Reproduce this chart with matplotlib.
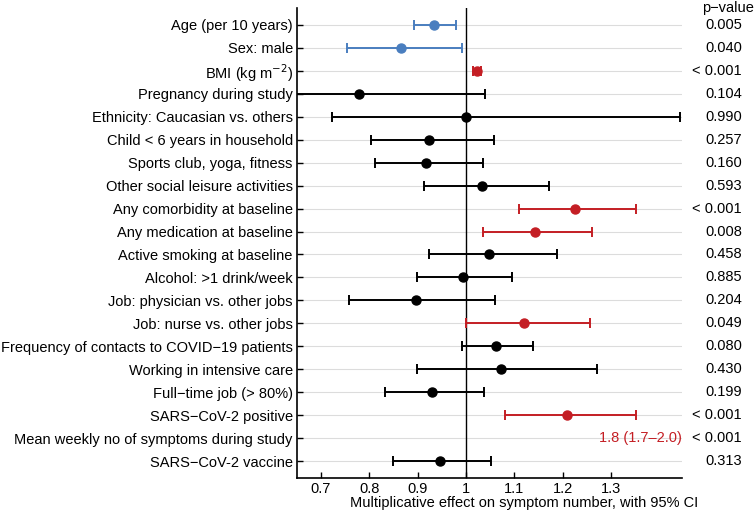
import numpy as np
import matplotlib
matplotlib.use("Agg")
import matplotlib.pyplot as plt

plt.rcParams['font.family'] = ['Liberation Sans', 'DejaVu Sans']

labels = ['Age (per 10 years)', 'Sex: male', 'BMI (kg m$^{-2}$)', 'Pregnancy during study',
          'Ethnicity: Caucasian vs. others', 'Child < 6 years in household',
          'Sports club, yoga, fitness', 'Other social leisure activities',
          'Any comorbidity at baseline', 'Any medication at baseline',
          'Active smoking at baseline', 'Alcohol: >1 drink/week',
          'Job: physician vs. other jobs', 'Job: nurse vs. other jobs',
          'Frequency of contacts to COVID\u221219 patients', 'Working in intensive care',
          'Full\u2212time job (> 80%)', 'SARS\u2212CoV-2 positive',
          'Mean weekly no of symptoms during study', 'SARS\u2212CoV-2 vaccine']
est = [0.934, 0.865, 1.022, 0.779, 1.001, 0.923, 0.917, 1.034, 1.226, 1.143,
       1.048, 0.993, 0.897, 1.120, 1.063, 1.072, 0.930, 1.209, np.nan, 0.946]
lo = [0.892, 0.754, 1.014, 0.60, 0.723, 0.803, 0.812, 0.914, 1.109, 1.036,
      0.923, 0.899, 0.757, 1.001, 0.992, 0.898, 0.832, 1.081, np.nan, 0.848]
hi = [0.980, 0.991, 1.032, 1.039, 1.443, 1.058, 1.035, 1.172, 1.352, 1.261,
      1.188, 1.095, 1.059, 1.257, 1.139, 1.271, 1.038, 1.351, np.nan, 1.052]
pvals = ['0.005', '0.040', '< 0.001', '0.104', '0.990', '0.257', '0.160', '0.593',
         '< 0.001', '0.008', '0.458', '0.885', '0.204', '0.049', '0.080', '0.430',
         '0.199', '< 0.001', '< 0.001', '0.313']
group = ['blue', 'blue', 'red', 'k', 'k', 'k', 'k', 'k', 'red', 'red',
         'k', 'k', 'k', 'red', 'k', 'k', 'k', 'red', 'red', 'k']
note_row = 18
note_text = '1.8 (1.7\u20132.0)'

cols = {'blue': '#4A7EBF', 'red': '#C41E24', 'k': 'black'}

fig = plt.figure(figsize=(7.56, 5.22), dpi=100)
ax = fig.add_axes([297/756, 44/522, 385/756, 470/522])

y = np.arange(len(labels))
for yi in y:
    ax.axhline(yi, color='#DCDCDC', lw=0.8, zorder=0)
ax.axvline(1, color='black', lw=1.0, zorder=1)

for i in range(len(labels)):
    if np.isnan(est[i]):
        continue
    c = cols[group[i]]
    ax.errorbar(est[i], y[i], xerr=[[est[i]-lo[i]], [hi[i]-est[i]]], fmt='o', color=c,
                ms=6.5, elinewidth=1.4, capsize=3.5, capthick=1.4, zorder=3)

ax.text(1.447, note_row, note_text, color=cols['red'], ha='right', va='center', fontsize=10.5)

ax.set_xlim(0.6503, 1.447)
ax.set_ylim(19.74, -0.74)
ax.set_yticks(y)
ax.set_yticklabels(labels, fontsize=10.5)
ax.set_xticks([0.7, 0.8, 0.9, 1.0, 1.1, 1.2, 1.3])
ax.set_xticklabels(['0.7', '0.8', '0.9', '1', '1.1', '1.2', '1.3'], fontsize=10.5)
ax.tick_params(direction='in', length=4, width=1, pad=3)
ax.spines['top'].set_visible(False)
ax.spines['right'].set_visible(False)
ax.spines['left'].set_linewidth(1.2)
ax.spines['bottom'].set_linewidth(1.2)

# p-value column
for i, p in enumerate(pvals):
    ax.annotate(p, xy=(1, y[i]), xycoords=('figure fraction', 'data'),
                xytext=(-10, 0), textcoords='offset points', ha='right', va='center', fontsize=10.5)
fig.text(754/756, 1 - 8/522, 'p\u2212value', ha='right', va='center', fontsize=10.5)

fig.text(524/756, 1 - 503/522, 'Multiplicative effect on symptom number, with 95% CI',
         ha='center', va='center', fontsize=10.5)

fig.savefig('out.png', dpi=100)
